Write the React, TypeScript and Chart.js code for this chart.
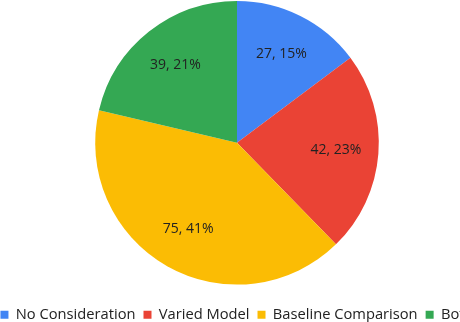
import React, { useEffect, useRef } from "react";
import { Chart, registerables } from "chart.js";

Chart.register(...registerables);

const categories = ["No Consideration", "Varied Model", "Baseline Comparison", "Both"];
const counts = [27, 42, 75, 39];
const colors = ["#4285F4", "#EA4335", "#FBBC04", "#34A853"];

const FONT = "'Open Sans', sans-serif";
const CANVAS_W = 560;
const CANVAS_H = 332;
const CENTER_X = 236.7;

const sliceLabels = {
  id: "sliceLabels",
  afterDatasetsDraw(chart: any) {
    const ctx = chart.ctx;
    const meta = chart.getDatasetMeta(0);
    const data = chart.data.datasets[0].data as number[];
    const total = data.reduce((a, b) => a + b, 0);
    ctx.save();
    ctx.font = `14px ${FONT}`;
    ctx.fillStyle = "#222222";
    ctx.textAlign = "center";
    ctx.textBaseline = "middle";
    meta.data.forEach((arc: any, i: number) => {
      const { x, y, startAngle, endAngle, outerRadius } = arc.getProps(
        ["x", "y", "startAngle", "endAngle", "outerRadius"],
        true
      );
      const mid = (startAngle + endAngle) / 2;
      const r = outerRadius * 0.7;
      const pct = Math.round((data[i] / total) * 100);
      ctx.fillText(`${data[i]}, ${pct}%`, x + Math.cos(mid) * r, y + Math.sin(mid) * r);
    });
    ctx.restore();
  },
};

export default function App() {
  const ref = useRef<HTMLCanvasElement>(null);
  useEffect(() => {
    document.body.style.margin = "0";
    const chart = new Chart(ref.current!, {
      type: "pie",
      data: {
        labels: categories,
        datasets: [
          {
            data: counts,
            backgroundColor: colors,
            borderWidth: 0,
          },
        ],
      },
      options: {
        responsive: false,
        animation: false,
        devicePixelRatio: 1,
        layout: { padding: { top: 1, bottom: 0, left: 0, right: 0 } },
        plugins: {
          tooltip: { enabled: false },
          legend: {
            position: "bottom",
            title: {
              display: true,
              text: "",
              font: { size: 1 },
              padding: { top: 13.5, bottom: 0 },
            },
            labels: {
              boxWidth: 8,
              boxHeight: 8,
              padding: 8,
              color: "#222222",
              font: { family: FONT, size: 14.7 },
            },
          },
        },
      },
      plugins: [sliceLabels],
    });
    return () => chart.destroy();
  }, []);
  return (
    <div
      style={{
        position: "fixed",
        left: 0,
        top: 0,
        width: 460,
        height: 322,
        overflow: "hidden",
        background: "#fff",
      }}
    >
      <canvas
        ref={ref}
        width={CANVAS_W}
        height={CANVAS_H}
        style={{
          position: "absolute",
          left: CENTER_X - CANVAS_W / 2,
          top: 0,
          width: CANVAS_W,
          height: CANVAS_H,
        }}
      />
    </div>
  );
}
